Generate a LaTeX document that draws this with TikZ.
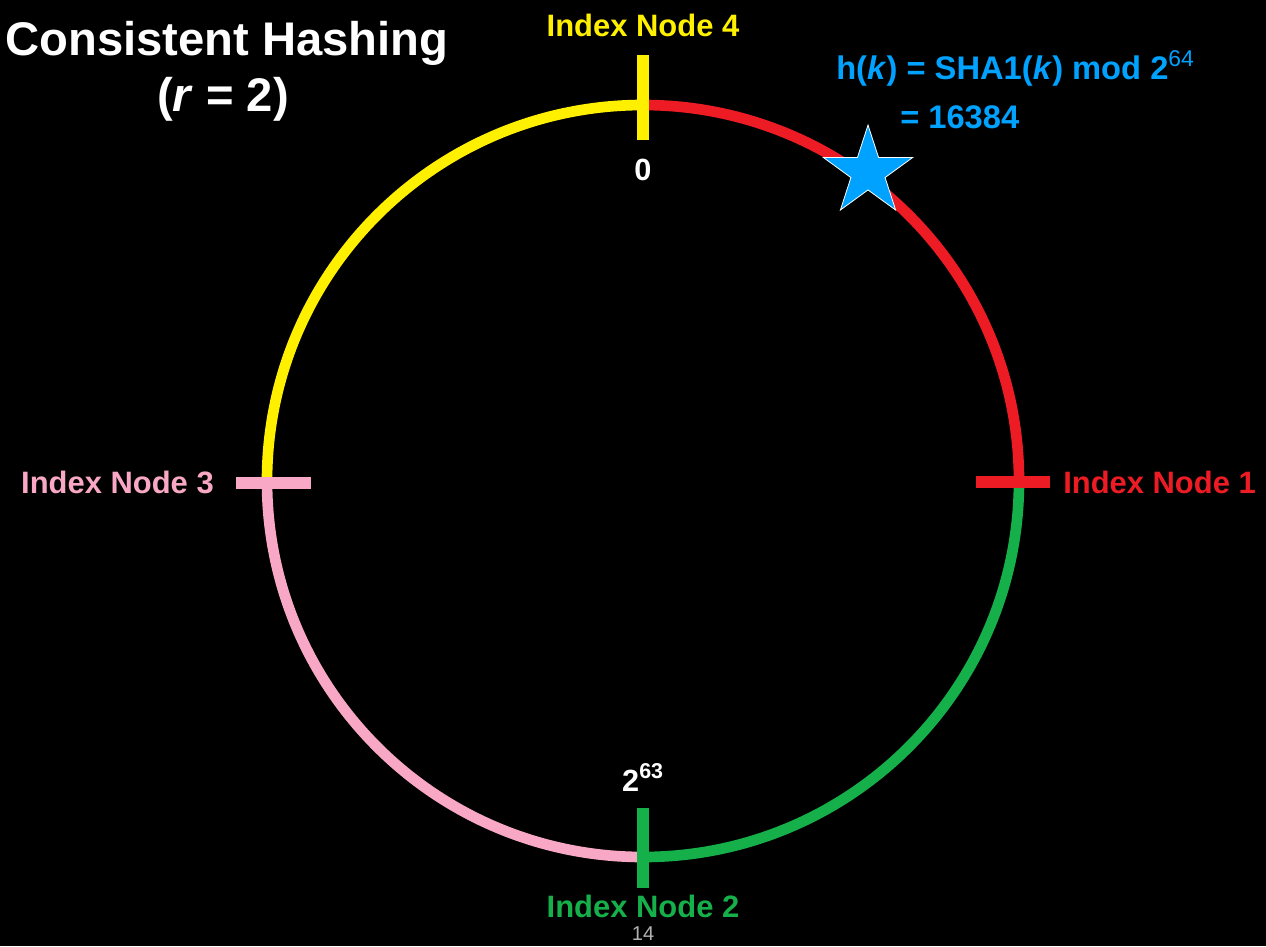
\documentclass[tikz,border=0pt]{standalone}
\usepackage{fontspec}
\setmainfont{Liberation Sans}
\usepackage{tikz}
\usetikzlibrary{shapes.geometric}

\definecolor{ringyellow}{RGB}{255,240,0}
\definecolor{ringred}{RGB}{237,28,36}
\definecolor{ringgreen}{RGB}{22,176,75}
\definecolor{ringpink}{RGB}{248,168,196}
\definecolor{keyblue}{RGB}{0,162,255}

\begin{document}
\begin{tikzpicture}[x=0.75pt,y=0.75pt,yscale=-1,xscale=1,
  ringarc/.style={line width=8pt},
  tickbar/.style={line width=9.5pt},
  nodelabel/.style={inner sep=0pt,font=\fontsize{23.2}{28}\selectfont\bfseries},
  ringpos/.style={inner sep=0pt,text=white,font=\fontsize{23}{27}\selectfont\bfseries}]
%set the page to 1266 x 946, black
\fill[black] (0,0) rectangle (1266,946);
\coordinate (ring) at (643,481);

%Arcs of the ring
\draw[ringarc, ringred] (ring) ++(-90:376) arc[start angle=-90, end angle=0, radius=376];
\draw[ringarc, ringgreen] (ring) ++(0:376) arc[start angle=0, end angle=90, radius=376];
\draw[ringarc, ringpink] (ring) ++(90:376) arc[start angle=90, end angle=180, radius=376];
\draw[ringarc, ringyellow] (ring) ++(180:376) arc[start angle=180, end angle=270, radius=376];

%Straight Lines 
\draw[tickbar, ringyellow] (643,55) -- (643,140);
%Straight Lines 
\draw[tickbar, ringred] (976,482) -- (1050,482);
%Straight Lines 
\draw[tickbar, ringgreen] (643,808) -- (643,888);
%Straight Lines 
\draw[tickbar, ringpink] (236,483) -- (311,483);

%Star
\node[star, star points=5, star point ratio=2.618, minimum size=70.5pt, inner sep=0pt,
  fill=keyblue, draw=white, line width=0.6pt] (key) at (868,172) {};

% Text Node
\node[anchor=base west, inner sep=0pt, text=white, font=\fontsize{35.4}{42}\selectfont\bfseries] (title) at (5,55) {Consistent Hashing};
% Text Node
\node[anchor=base, inner sep=0pt, text=white, font=\fontsize{35.4}{42}\selectfont\bfseries] (rval) at (223,111) {(\textit{r} = 2)};
% Text Node
\node[nodelabel, text=ringyellow, anchor=base] (node4) at (643,36) {Index Node 4};
% Text Node
\node[nodelabel, text=ringred, anchor=base west] (node1) at (1063,493) {Index Node 1};
% Text Node
\node[nodelabel, text=ringgreen, anchor=base] (node2) at (643,917) {Index Node 2};
% Text Node
\node[nodelabel, text=ringpink, anchor=base east] (node3) at (214,493) {Index Node 3};
% Text Node
\node[ringpos, anchor=base] (zero) at (643,180) {0};
% Text Node
\node[ringpos, anchor=base] (half) at (643,791) {2\textsuperscript{63}};
% Text Node
\node[inner sep=0pt, text=keyblue, anchor=base west, font=\fontsize{24.5}{29}\selectfont\bfseries] (hash) at (836,79) {h(\textit{k}) = SHA1(\textit{k}) mod 2\textsuperscript{\mdseries 64}};
% Text Node
\node[inner sep=0pt, text=keyblue, anchor=base west, font=\fontsize{24.5}{29}\selectfont\bfseries] (hashval) at (900,128) {= 16384};
% Text Node
\node[inner sep=0pt, text=white!70!black, anchor=base, font=\fontsize{15}{18}\selectfont] (page) at (643,940) {14};

\end{tikzpicture}
\end{document}
